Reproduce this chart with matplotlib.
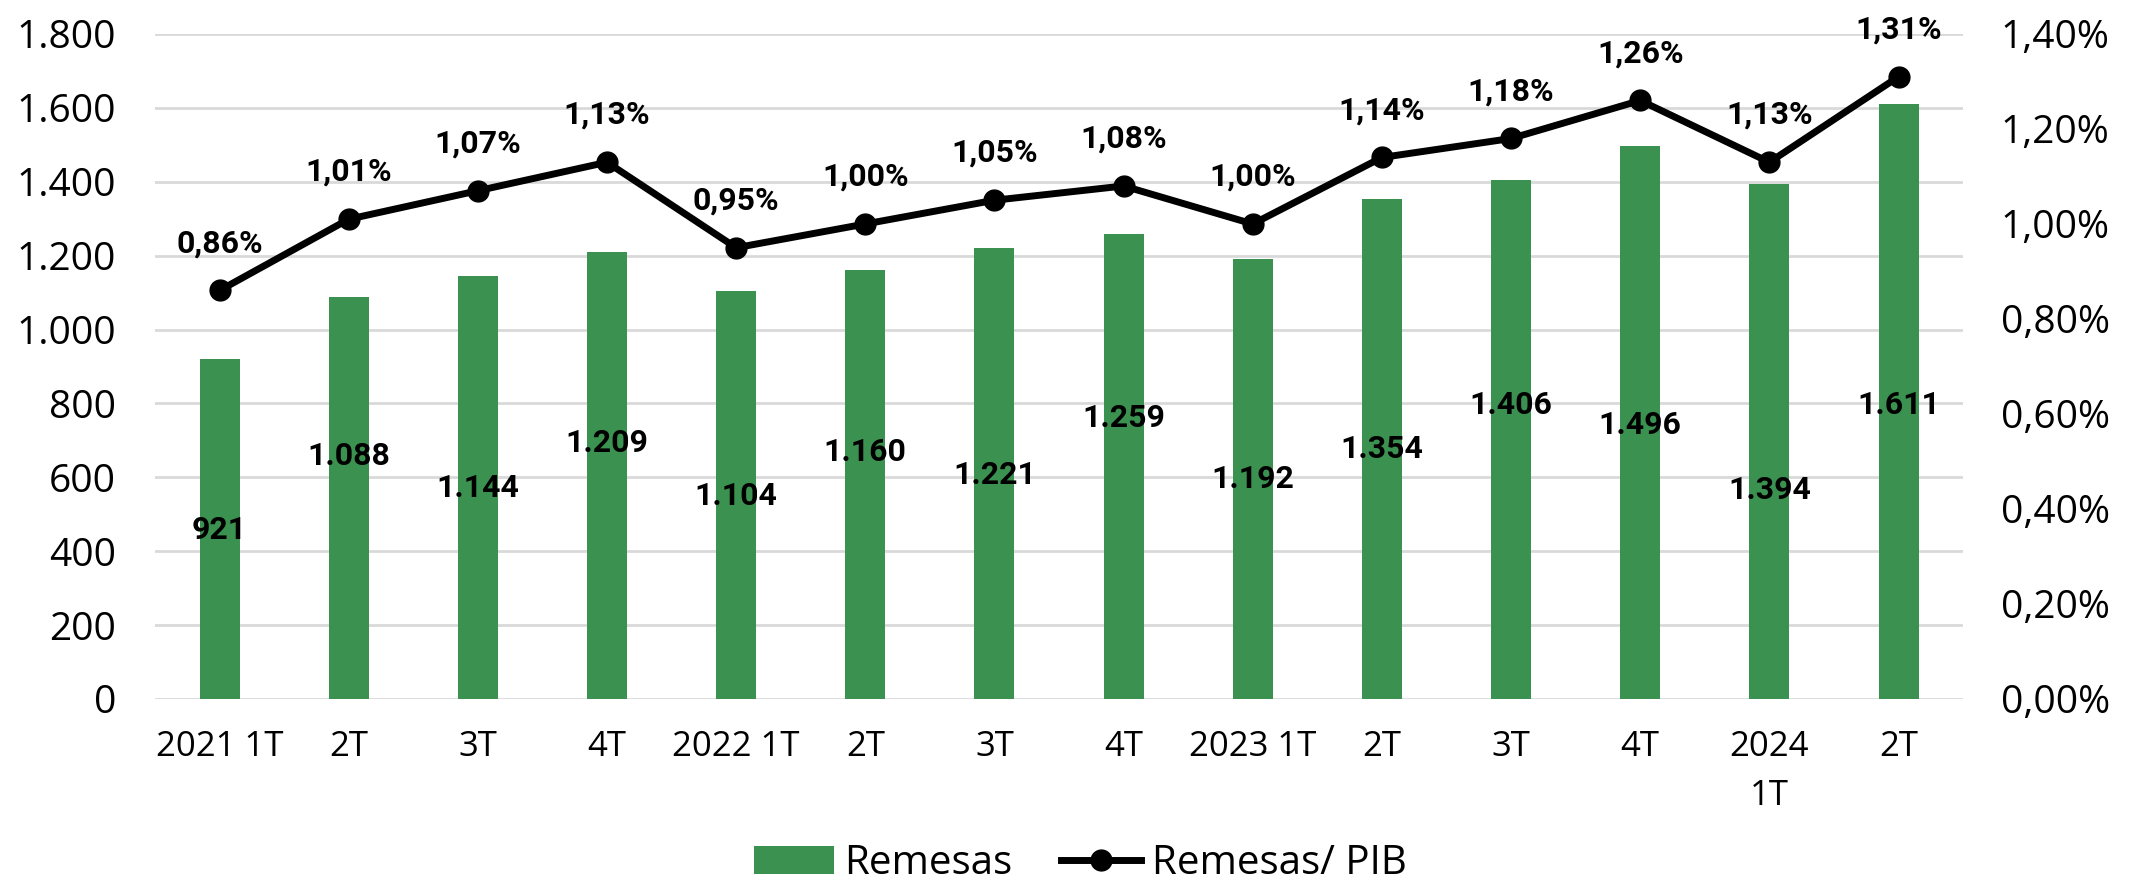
import matplotlib
matplotlib.use("Agg")
import matplotlib.pyplot as plt
from matplotlib.ticker import FuncFormatter
import numpy as np

categories = ["2021 1T", "2T", "3T", "4T", "2022 1T", "2T", "3T", "4T",
              "2023 1T", "2T", "3T", "4T", "2024\n1T", "2T"]
remesas = [921, 1088, 1144, 1209, 1104, 1160, 1221, 1259, 1192, 1354, 1406, 1496, 1394, 1611]
remesas_pib = [0.86, 1.01, 1.07, 1.13, 0.95, 1.00, 1.05, 1.08, 1.00, 1.14, 1.18, 1.26, 1.13, 1.31]

# vertical placement of bar labels (data units, as in the original, manually placed)
bar_label_y = [457, 657, 571, 693, 549, 668, 606, 760, 595, 676, 796, 741, 566, 796]

GREEN = "#3a9150"
GRID = "#d9d9d9"

plt.rcParams['font.family'] = ['Open Sans', 'DejaVu Sans']

fig = plt.figure(figsize=(21.49, 8.85), dpi=100)
ax = fig.add_axes([0.0721, 0.2102, 0.9135 - 0.0721, 0.9616 - 0.2102])
ax2 = ax.twinx()

x = np.arange(len(categories))
ax.bar(x, remesas, width=0.31, color=GREEN, zorder=2, label="Remesas")
ax.set_xlim(-0.5, len(categories) - 0.5)
ax.set_ylim(0, 1800)
ax.set_yticks(np.arange(0, 1801, 200))
ax.yaxis.set_major_formatter(FuncFormatter(lambda v, p: f"{int(v):,}".replace(",", ".")))
ax.grid(axis='y', color=GRID, linewidth=2.0, zorder=0)
ax.set_axisbelow(True)
ax.set_xticks(x)
ax.set_xticklabels(categories, fontsize=25, linespacing=1.6)
ax.tick_params(axis='y', labelsize=28, length=0, pad=28)
ax.tick_params(axis='x', length=0, pad=22)
for s in ax.spines.values():
    s.set_visible(False)

for xi, v, ly in zip(x, remesas, bar_label_y):
    ax.text(xi, ly, f"{v:,}".replace(",", "."), ha='center', va='center',
            fontsize=23, fontweight='bold', family=['Roboto', 'DejaVu Sans'], zorder=5)

ax2.plot(x, remesas_pib, color='black', linewidth=5, marker='o', markersize=15,
         zorder=4, label="Remesas/ PIB")
ax2.set_ylim(0, 1.4)
ax2.set_yticks(np.arange(0, 1.41, 0.2))
ax2.yaxis.set_major_formatter(FuncFormatter(lambda v, p: f"{v:.2f}%".replace(".", ",")))
ax2.tick_params(axis='y', labelsize=28, length=0, pad=27)
for s in ax2.spines.values():
    s.set_visible(False)

for xi, v in zip(x, remesas_pib):
    ax2.annotate(f"{v:.2f}%".replace(".", ","), (xi, v), xytext=(0, 34),
                 textcoords='offset points', ha='center', va='center',
                 fontsize=23, fontweight='bold', family=['Roboto', 'DejaVu Sans'])

h1, l1 = ax.get_legend_handles_labels()
h2, l2 = ax2.get_legend_handles_labels()
fig.legend(h1 + h2, l1 + l2, loc='center', bbox_to_anchor=(0.5026, 0.024),
           ncol=2, frameon=False, fontsize=29, handlelength=2.0,
           handletextpad=0.25, columnspacing=1.2)

fig.savefig("out.png", dpi=100)
